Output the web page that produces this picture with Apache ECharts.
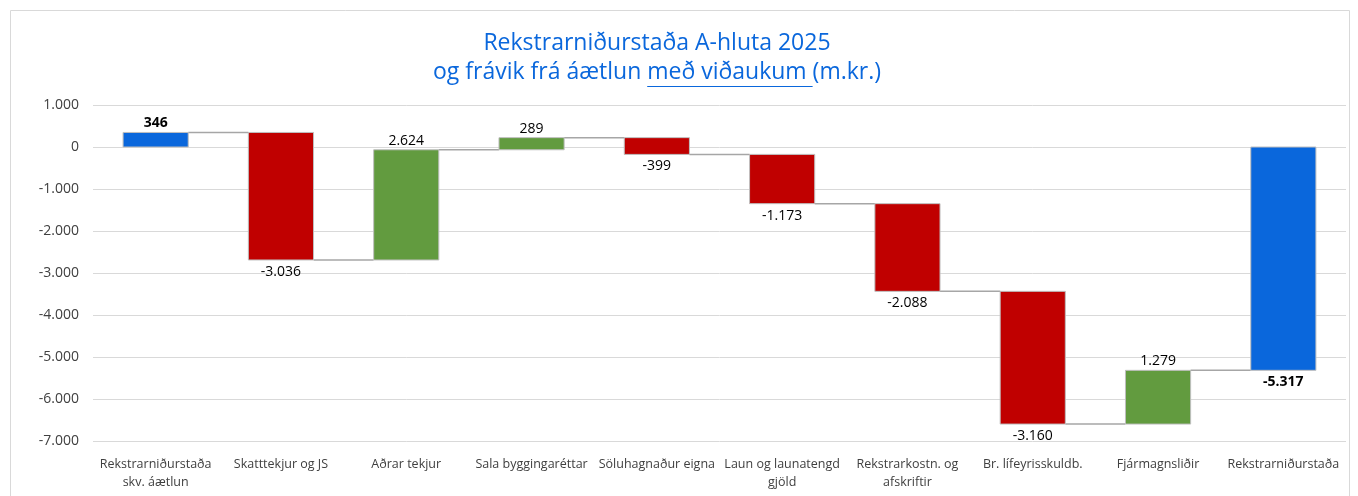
<!DOCTYPE html>
<html>
<head>
<meta charset="utf-8">
<title>Rekstrarniðurstaða A-hluta 2025</title>
<script src="https://cdn.jsdelivr.net/npm/echarts@6/dist/echarts.min.js"></script>
<style>
  html, body { margin: 0; padding: 0; background: #fff; }
  #chart { width: 1358px; height: 496px; }
</style>
</head>
<body>
<div id="chart"></div>
<script>
// flokkar og gildi (m.kr.)
const categories = [
  'Rekstrarniðurstaða\nskv. áætlun', 'Skatttekjur og JS', 'Aðrar tekjur',
  'Sala byggingaréttar', 'Söluhagnaður eigna', 'Laun og launatengd\ngjöld',
  'Rekstrarkostn. og\nafskriftir', 'Br. lífeyrisskuldb.', 'Fjármagnsliðir',
  'Rekstrarniðurstaða'
];
const startValue = 346;
const changes = [-3036, 2624, 289, -399, -1173, -2088, -3160, 1279];
const endValue = -5317;

const BLUE = '#0A67DC', RED = '#C00000', GREEN = '#629B3F';
const FONT = '"Open Sans", "Noto Sans", sans-serif';

function fmt(v) {
  const s = Math.abs(Math.round(v)).toString().replace(/\B(?=(\d{3})+(?!\d))/g, '.');
  return (v < 0 ? '-' : '') + s;
}

// [index, from, to, value, kind]
const bars = [];
bars.push([0, 0, startValue, startValue, 'total']);
let run = startValue;
changes.forEach((c, k) => {
  bars.push([k + 1, run, run + c, c, c >= 0 ? 'up' : 'down']);
  run += c;
});
bars.push([categories.length - 1, 0, endValue, endValue, 'total']);

const chart = echarts.init(document.getElementById('chart'));

// undirstrikun í titli - mælum breidd texta
const ctx = document.createElement('canvas').getContext('2d');
const titleSize = 23;
ctx.font = titleSize + 'px ' + FONT;
const t1 = 'og frávik frá áætlun ', t2 = 'með viðaukum ', t3 = '(m.kr.)';
const w1 = ctx.measureText(t1).width, w2 = ctx.measureText(t2).width, w3 = ctx.measureText(t3).width;
const titleCx = 657;
const line2Left = titleCx - (w1 + w2 + w3) / 2;

const option = {
  animation: false,
  grid: { left: 93, right: 12, top: 105, bottom: 55 },
  graphic: [
    { type: 'rect', shape: { x: 10.5, y: 10.5, width: 1339, height: 500 },
      style: { fill: 'none', stroke: '#D9D9D9', lineWidth: 1 }, silent: true },
    { type: 'text', x: titleCx, y: 43,
      style: { text: 'Rekstrarniðurstaða A-hluta 2025', font: titleSize + 'px ' + FONT,
        fill: BLUE, align: 'center', verticalAlign: 'middle' } },
    { type: 'text', x: line2Left, y: 72,
      style: { text: t1 + t2 + t3, font: titleSize + 'px ' + FONT,
        fill: BLUE, align: 'left', verticalAlign: 'middle' } },
    { type: 'line', shape: { x1: line2Left + w1, y1: 86.5, x2: line2Left + w1 + w2, y2: 86.5 },
      style: { stroke: BLUE, lineWidth: 1.2 } }
  ],
  xAxis: {
    type: 'category',
    data: categories,
    axisLine: { show: false },
    axisTick: { show: false },
    axisLabel: { interval: 0, margin: 14, color: '#404040', fontFamily: FONT, fontSize: 12.5, lineHeight: 18 }
  },
  yAxis: {
    type: 'value',
    min: -7000, max: 1000, interval: 1000,
    axisLine: { show: false },
    axisTick: { show: false },
    splitLine: { lineStyle: { color: '#D9D9D9', width: 1 } },
    axisLabel: { color: '#404040', fontFamily: FONT, fontSize: 14, margin: 14, formatter: fmt }
  },
  series: [
    {
      // tengilínur milli súlna
      type: 'custom',
      z: 1,
      data: bars.slice(0, -1),
      renderItem(params, api) {
        const i = api.value(0), to = api.value(2);
        const bw = api.size([1, 0])[0] * 0.52;
        const a = api.coord([i, to]), b = api.coord([i + 1, to]);
        return { type: 'line', shape: { x1: a[0] + bw / 2, y1: a[1], x2: b[0] - bw / 2, y2: b[1] },
          style: { stroke: '#A6A6A6', lineWidth: 1.5 } };
      }
    },
    {
      type: 'custom',
      z: 2,
      data: bars,
      renderItem(params, api) {
        const item = bars[params.dataIndex];
        const i = item[0], from = item[1], to = item[2], val = item[3], kind = item[4];
        const bw = api.size([1, 0])[0] * 0.52;
        const pTop = api.coord([i, Math.max(from, to)]);
        const pBot = api.coord([i, Math.min(from, to)]);
        const color = kind === 'total' ? BLUE : (kind === 'up' ? GREEN : RED);
        const above = to >= from;
        return {
          type: 'group',
          children: [
            { type: 'rect',
              shape: { x: pTop[0] - bw / 2, y: pTop[1], width: bw, height: pBot[1] - pTop[1] },
              style: { fill: color, stroke: '#BFBFBF', lineWidth: 1 } },
            { type: 'text',
              x: pTop[0], y: above ? pTop[1] - 2 : pBot[1] + 5,
              style: { text: fmt(val), fill: '#000',
                font: (kind === 'total' ? 'bold ' : '') + '14px ' + FONT,
                align: 'center', verticalAlign: above ? 'bottom' : 'top' } }
          ]
        };
      }
    }
  ]
};

chart.setOption(option);
</script>
</body>
</html>
